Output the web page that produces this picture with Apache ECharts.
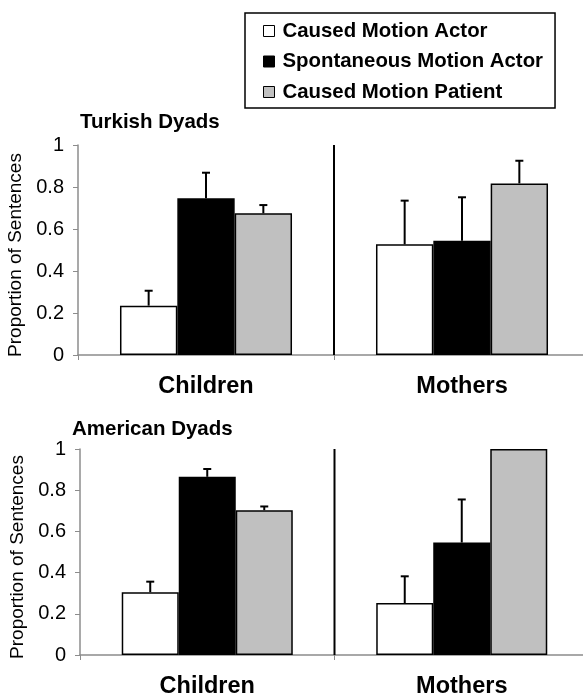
<!DOCTYPE html>
<html>
<head>
<meta charset="utf-8">
<script src="https://cdn.jsdelivr.net/npm/echarts@6/dist/echarts.min.js"></script>
<style>
  html, body { margin: 0; padding: 0; background: #fff; }
  #chart { width: 583px; height: 693px; }
</style>
</head>
<body>
<div id="chart"></div>
<script>
// data
var categories = ['Children', 'Mothers'];
var seriesNames = ['Caused Motion Actor', 'Spontaneous Motion Actor', 'Caused Motion Patient'];
var panelTitles = ['Turkish Dyads', 'American Dyads'];

// Turkish dyads: mean and upper error (distance above the bar)
var turCMA = [0.235, 0.527];
var turSMA = [0.746, 0.544];
var turCMP = [0.675, 0.817];
var turCMAErr = [0.071, 0.208];
var turSMAErr = [0.122, 0.207];
var turCMPErr = [0.039, 0.108];

// American dyads
var amCMA = [0.305, 0.252];
var amSMA = [0.865, 0.546];
var amCMP = [0.703, 1.0];
var amCMAErr = [0.051, 0.13];
var amSMAErr = [0.038, 0.209];
var amCMPErr = [0.018, 0];

var font = 'Liberation Sans, Arial, Helvetica, sans-serif';
var fills = ['#ffffff', '#000000', '#c0c0c0'];
var barW = 0.224; // share of category width

var myChart = echarts.init(document.getElementById('chart'), null, { renderer: 'canvas' });

function errSeries(gridIdx, idx, means, errs) {
  var d = [];
  for (var i = 0; i < means.length; i++) {
    d.push([i, means[i], means[i] + errs[i]]);
  }
  return {
    type: 'custom',
    xAxisIndex: gridIdx * 2,
    yAxisIndex: gridIdx,
    z: 5,
    silent: true,
    data: d,
    renderItem: function (params, api) {
      var cat = api.value(0);
      var lo = api.value(1);
      var hi = api.value(2);
      if (hi - lo <= 0) return null;
      var band = api.size([1, 0])[0];
      var off = (idx - 1) * band * barW;
      var p0 = api.coord([cat, lo]);
      var p1 = api.coord([cat, hi]);
      var x = p0[0] + off;
      var style = { stroke: '#000', lineWidth: 2 };
      return {
        type: 'group',
        children: [
          { type: 'line', shape: { x1: x, y1: p0[1], x2: x, y2: p1[1] }, style: style },
          { type: 'line', shape: { x1: x - 4, y1: p1[1], x2: x + 4, y2: p1[1] }, style: style }
        ]
      };
    }
  };
}

function barSeries(gridIdx, idx, vals) {
  return {
    name: seriesNames[idx],
    type: 'bar',
    xAxisIndex: gridIdx * 2,
    yAxisIndex: gridIdx,
    data: vals,
    barWidth: (barW * 100) + '%',
    barGap: '0%',
    itemStyle: { color: fills[idx], borderColor: '#000', borderWidth: 1.5 },
    emphasis: { disabled: true }
  };
}

function dividerSeries(gridIdx) {
  return {
    type: 'line',
    xAxisIndex: gridIdx * 2 + 1,
    yAxisIndex: gridIdx,
    data: [[1, 0], [1, 1]],
    symbol: 'none',
    lineStyle: { color: '#000', width: 2 },
    z: 6,
    silent: true
  };
}

function catAxis(gridIdx) {
  return {
    type: 'category',
    gridIndex: gridIdx,
    data: categories,
    axisLine: { lineStyle: { color: '#8c8c8c', width: 1.5 } },
    axisTick: { show: true, length: 5, lineStyle: { color: '#8c8c8c' } },
    axisLabel: { color: '#000', fontFamily: font, fontWeight: 'bold', fontSize: 23.5, margin: 20 },
    splitLine: { show: false }
  };
}

function hiddenAxis(gridIdx) {
  return { type: 'value', gridIndex: gridIdx, min: 0, max: 2, show: false };
}

function valAxis(gridIdx) {
  return {
    type: 'value',
    gridIndex: gridIdx,
    min: 0,
    max: 1,
    interval: 0.2,
    name: 'Proportion of Sentences',
    nameLocation: 'middle',
    nameGap: 49,
    nameTextStyle: { color: '#000', fontFamily: font, fontSize: 19, padding: [0, 10, 0, 0] },
    axisLine: { show: true, lineStyle: { color: '#8c8c8c', width: 1.5 } },
    axisTick: { show: true, length: 5, lineStyle: { color: '#8c8c8c' } },
    axisLabel: { color: '#000', fontFamily: font, fontSize: 20, margin: 14 },
    splitLine: { show: false }
  };
}

var option = {
  animation: false,
  backgroundColor: '#fff',
  title: [
    { text: panelTitles[0], left: 80, top: 112, padding: 0,
      textStyle: { color: '#000', fontFamily: font, fontWeight: 'bold', fontSize: 20.5 } },
    { text: panelTitles[1], left: 72, top: 419, padding: 0,
      textStyle: { color: '#000', fontFamily: font, fontWeight: 'bold', fontSize: 20.5 } }
  ],
  legend: {
    orient: 'vertical',
    left: 245,
    top: 13,
    padding: [8, 12, 6, 18],
    borderColor: '#000',
    borderWidth: 1.5,
    itemWidth: 11,
    itemHeight: 11,
    itemGap: 10.5,
    icon: 'rect',
    selectedMode: false,
    data: seriesNames,
    itemStyle: { borderColor: '#000', borderWidth: 1 },
    textStyle: { color: '#000', fontFamily: font, fontWeight: 'bold', fontSize: 20.4, padding: [0, 0, 0, 3] }
  },
  grid: [
    { left: 78, top: 145, width: 512, height: 210, outerBoundsMode: 'none' },
    { left: 80, top: 449, width: 509, height: 206, outerBoundsMode: 'none' }
  ],
  xAxis: [catAxis(0), hiddenAxis(0), catAxis(1), hiddenAxis(1)],
  yAxis: [valAxis(0), valAxis(1)],
  series: [
    barSeries(0, 0, turCMA), barSeries(0, 1, turSMA), barSeries(0, 2, turCMP),
    errSeries(0, 0, turCMA, turCMAErr), errSeries(0, 1, turSMA, turSMAErr), errSeries(0, 2, turCMP, turCMPErr),
    dividerSeries(0),
    barSeries(1, 0, amCMA), barSeries(1, 1, amSMA), barSeries(1, 2, amCMP),
    errSeries(1, 0, amCMA, amCMAErr), errSeries(1, 1, amSMA, amSMAErr), errSeries(1, 2, amCMP, amCMPErr),
    dividerSeries(1)
  ]
};

myChart.setOption(option);
</script>
</body>
</html>
